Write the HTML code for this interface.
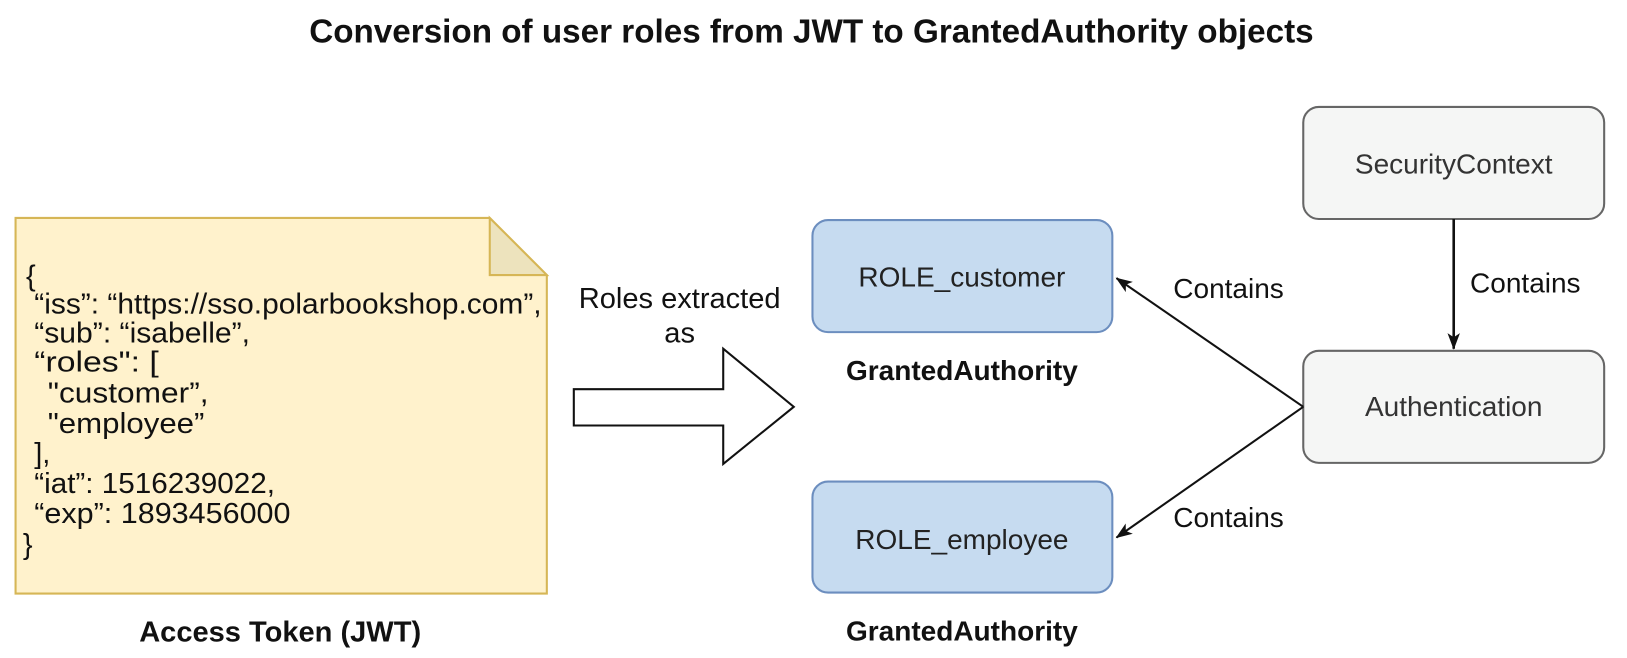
<!DOCTYPE html>
<html><head><meta charset="utf-8"><style>
html,body{margin:0;padding:0;background:#fff;}
svg{display:block;font-family:"Liberation Sans",Arial,sans-serif;}
</style></head><body>
<svg width="1627" height="658" viewBox="0 0 1568 634" xmlns="http://www.w3.org/2000/svg">
<defs>
<marker id="ah2" markerWidth="16" markerHeight="16" refX="15" refY="8" orient="auto" markerUnits="userSpaceOnUse" viewBox="0 0 16 16">
<path d="M0,2 L16,8 L0,14 L4,8 Z" fill="#111"/>
</marker>
</defs>
<text x="782" y="41" font-size="32" font-weight="bold" text-anchor="middle" fill="#111" textLength="968" lengthAdjust="spacingAndGlyphs">Conversion of user roles from JWT to GrantedAuthority objects</text>

<path d="M15,210 H472 L527,265 V572 H15 Z" fill="#fff2cc" stroke="#d6b656" stroke-width="2"/>
<path d="M472,210 V265 H527 Z" fill="#ede3bd" stroke="#d6b656" stroke-width="2"/>
<g font-family="'Liberation Sans Narrow','Liberation Sans',sans-serif" font-size="28" fill="#111">
<text x="25" y="275">{</text>
<text x="33" y="302" textLength="489" lengthAdjust="spacingAndGlyphs">“iss”: “https://sso.polarbookshop.com”,</text>
<text x="33" y="330" textLength="208" lengthAdjust="spacingAndGlyphs">“sub”: “isabelle”,</text>
<text x="33" y="358" textLength="120" lengthAdjust="spacingAndGlyphs">“roles": [</text>
<text x="46" y="388" textLength="155" lengthAdjust="spacingAndGlyphs">"customer”,</text>
<text x="46" y="417" textLength="151" lengthAdjust="spacingAndGlyphs">"employee”</text>
<text x="33" y="446">],</text>
<text x="33" y="475" textLength="232" lengthAdjust="spacingAndGlyphs">“iat”: 1516239022,</text>
<text x="33" y="504" textLength="247" lengthAdjust="spacingAndGlyphs">“exp”: 1893456000</text>
<text x="22" y="534">}</text>
</g>
<text x="270" y="618" font-size="28" font-weight="bold" text-anchor="middle" fill="#111">Access Token (JWT)</text>

<text x="655" y="297" font-size="28" text-anchor="middle" fill="#111">Roles extracted</text>
<text x="655" y="330" font-size="28" text-anchor="middle" fill="#111">as</text>
<path d="M553,375 H697 V336 L765,392 L697,447 V410 H553 Z" fill="#fff" stroke="#111" stroke-width="2"/>

<rect x="783" y="212" width="289" height="108" rx="15" fill="#c6dbf0" stroke="#6c8ebf" stroke-width="2"/>
<text x="927" y="276" font-size="27" text-anchor="middle" fill="#222">ROLE_customer</text>
<text x="927" y="366" font-size="27" font-weight="bold" text-anchor="middle" fill="#111">GrantedAuthority</text>
<rect x="783" y="464" width="289" height="107" rx="15" fill="#c6dbf0" stroke="#6c8ebf" stroke-width="2"/>
<text x="927" y="529" font-size="27" text-anchor="middle" fill="#222">ROLE_employee</text>
<text x="927" y="617" font-size="27" font-weight="bold" text-anchor="middle" fill="#111">GrantedAuthority</text>

<rect x="1256" y="103" width="290" height="108" rx="15" fill="#f5f6f5" stroke="#666" stroke-width="2"/>
<text x="1401" y="167" font-size="27" text-anchor="middle" fill="#333">SecurityContext</text>
<rect x="1256" y="338" width="290" height="108" rx="15" fill="#f5f6f5" stroke="#666" stroke-width="2"/>
<text x="1401" y="401" font-size="27" text-anchor="middle" fill="#333">Authentication</text>

<line x1="1401" y1="211" x2="1401" y2="336" stroke="#111" stroke-width="2.5" marker-end="url(#ah2)"/>
<text x="1470" y="282" font-size="27" text-anchor="middle" fill="#111">Contains</text>
<line x1="1256" y1="392" x2="1076" y2="268" stroke="#111" stroke-width="2" marker-end="url(#ah2)"/>
<line x1="1256" y1="392" x2="1076" y2="518" stroke="#111" stroke-width="2" marker-end="url(#ah2)"/>
<text x="1184" y="287" font-size="27" text-anchor="middle" fill="#111">Contains</text>
<text x="1184" y="508" font-size="27" text-anchor="middle" fill="#111">Contains</text>
</svg>
</body></html>
